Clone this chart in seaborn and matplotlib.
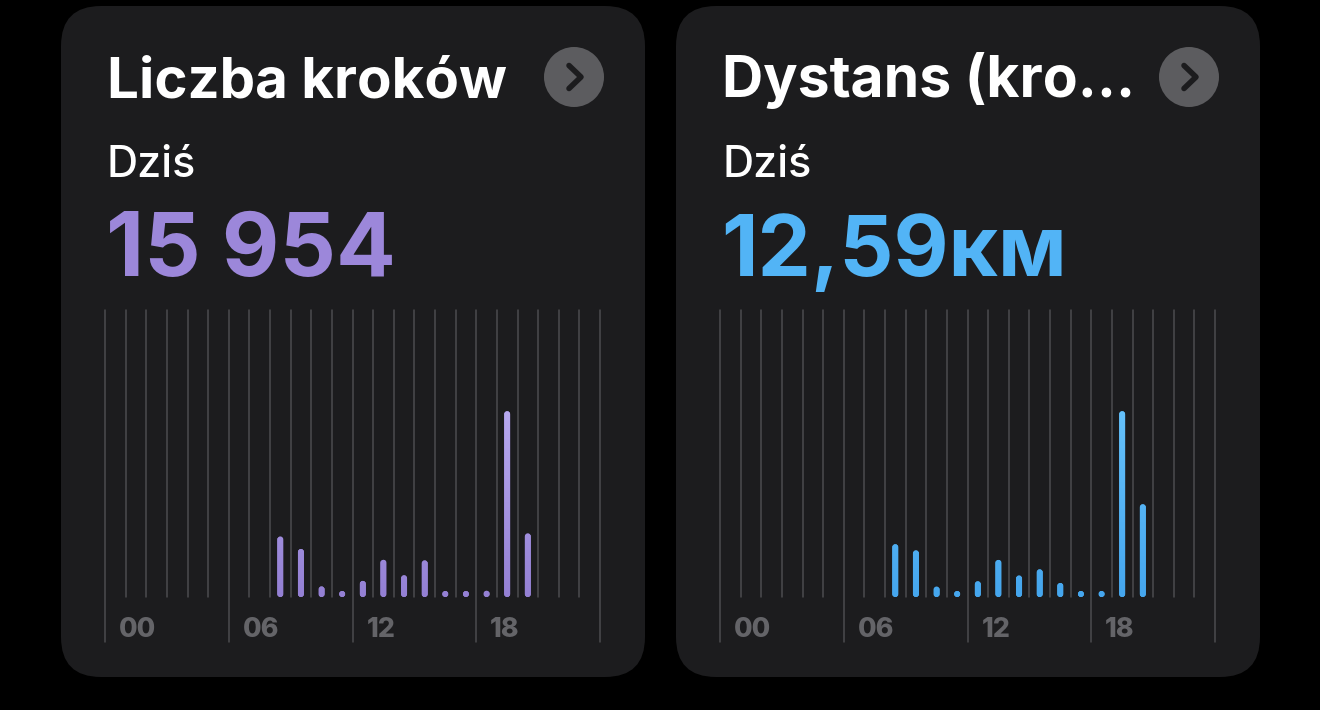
import matplotlib
matplotlib.use("Agg")
import matplotlib.pyplot as plt
import matplotlib.transforms as mtransforms
from matplotlib.patches import FancyBboxPatch, Circle
from matplotlib.colors import LinearSegmentedColormap
import numpy as np
import seaborn as sns

# ---------------- data ----------------
hours = [8, 9, 10, 11, 12, 13, 14, 15, 16, 17, 18, 19, 20]
steps = [1950, 1550, 340, 80, 520, 1200, 700, 1180, 120, 64, 200, 6000, 2050]
distance_km = [1.28, 1.13, 0.25, 0.12, 0.38, 0.90, 0.52, 0.67, 0.34, 0.12, 0.12, 4.51, 2.25]
tick_hours = [0, 6, 12, 18]
tick_labels = ["00", "06", "12", "18"]
card_titles = ["Liczba kroków", "Dystans (kro…"]
period_label = "Dziś"
totals = ["15 954", "12,59км"]

# ---------------- style ----------------
W, H, DPI = 1320, 710, 100
sns.set_theme(style="dark")
plt.rcParams["font.family"] = ["Inter", "DejaVu Sans"]

CARD = "#1c1c1e"
GRID = "#4c4c4f"
TICK = "#646468"

fig = plt.figure(figsize=(W / DPI, H / DPI), dpi=DPI, facecolor="black")
bg = fig.add_axes([0, 0, 1, 1], zorder=0)
bg.set_xlim(0, W)
bg.set_ylim(H, 0)
bg.axis("off")
renderer = fig.canvas.get_renderer()


def fit_width(t, target):
    bb = t.get_window_extent(renderer)
    t.set_fontsize(t.get_fontsize() * target / bb.width)
    return t.get_fontsize()


def px_axes(x0, y0, x1, y1, z=2):
    return fig.add_axes([x0 / W, 1 - y1 / H, (x1 - x0) / W, (y1 - y0) / H], zorder=z)


panels = [
    dict(dx=0, title=card_titles[0], total=totals[0], values=steps,
         color="#9c87da", top="#b8aaf0", bottom="#9480d4", title_w=400, total_w=290),
    dict(dx=615, title=card_titles[1], total=totals[1], values=distance_km,
         color="#52b4f6", top="#66c2fb", bottom="#45a6ee", title_w=413, total_w=346),
]

PLOT_X0, PLOT_X1, PLOT_Y0, PLOT_Y1 = 105, 600, 310, 597
LONG_BOTTOM = 642
BAR_PX = 6.0

for P in panels:
    dx = P["dx"]
    # card
    bg.add_patch(FancyBboxPatch((61 + dx, 6), 584, 671,
                                boxstyle="round,pad=0,rounding_size=40",
                                facecolor=CARD, edgecolor="none", zorder=1))
    # header texts
    t = bg.text(107 + dx, 97, P["title"], fontsize=40, fontweight="bold",
                color="white", va="baseline", ha="left", zorder=3)
    fit_width(t, P["title_w"])
    t = bg.text(107 + dx, 177, period_label, fontsize=27, fontweight="medium",
                color="white", va="baseline", ha="left", zorder=3)
    fit_width(t, 89)
    t = bg.text(106 + dx, 276, P["total"], fontsize=66, fontweight="bold",
                color=P["color"], va="baseline", ha="left", zorder=3)
    fit_width(t, P["total_w"])
    # chevron button
    bg.add_patch(Circle((574 + dx, 77), 30, facecolor="#5c5c5f", edgecolor="none", zorder=3))
    bg.plot([569 + dx, 581 + dx, 569 + dx], [65.5, 77, 88.5], color="#1c1c1e", lw=4.0,
            solid_capstyle="round", solid_joinstyle="round", zorder=4)

    # chart
    ax = px_axes(PLOT_X0 + dx, PLOT_Y0, PLOT_X1 + dx, PLOT_Y1)
    ax.set_facecolor("none")
    vals = P["values"]
    ymax = max(vals) * 1.545
    px_x = (PLOT_X1 - PLOT_X0) / 24.0
    px_y = (PLOT_Y1 - PLOT_Y0) / ymax
    bw = BAR_PX / px_x

    sns.barplot(x=np.array(hours) + 0.5, y=vals, native_scale=True, width=bw,
                color=P["color"], ax=ax, zorder=3)

    cmap = LinearSegmentedColormap.from_list("g", [P["bottom"], P["top"]])
    grad = np.linspace(0, 1, 256).reshape(-1, 1)
    gtop = max(vals) * 1.02
    for p in list(ax.patches):
        x0, w, h = p.get_x(), p.get_width(), p.get_height()
        p.set_visible(False)
        hmin = w * px_x / px_y
        hh = max(h, hmin)
        fb = FancyBboxPatch((x0, 0), w, hh,
                            boxstyle=f"round,pad=0,rounding_size={w / 2}",
                            mutation_aspect=px_x / px_y,
                            facecolor=P["color"], edgecolor="none", zorder=3)
        ax.add_patch(fb)
        im = ax.imshow(grad, extent=[x0, x0 + w, 0, gtop], cmap=cmap, aspect="auto",
                       origin="lower", zorder=4, interpolation="bilinear")
        im.set_clip_path(fb)

    for k in range(25):
        long_ = (k % 6 == 0)
        ymin = -(LONG_BOTTOM - PLOT_Y1) / (PLOT_Y1 - PLOT_Y0) if long_ else 0
        ax.axvline(k, ymin=ymin, ymax=1, color=GRID, lw=1.1, clip_on=False, zorder=1)

    trans = mtransforms.blended_transform_factory(ax.transData, ax.transAxes)
    ylab = -(637 - PLOT_Y1) / (PLOT_Y1 - PLOT_Y0)
    tick_fs = None
    for hr, lab in zip(tick_hours, tick_labels):
        tt = ax.text(hr + 14 / px_x, ylab, lab, transform=trans, ha="left", va="baseline",
                     fontsize=18, fontweight="heavy", color=TICK, clip_on=False)
        if tick_fs is None:
            tick_fs = fit_width(tt, 37)
        else:
            tt.set_fontsize(tick_fs)

    ax.set_xlim(0, 24)
    ax.set_ylim(0, ymax)
    ax.set_xticks([])
    ax.set_yticks([])
    ax.set_xlabel("")
    ax.set_ylabel("")
    ax.grid(False)
    for s in ax.spines.values():
        s.set_visible(False)

fig.savefig("out.png", dpi=DPI, facecolor="black")
